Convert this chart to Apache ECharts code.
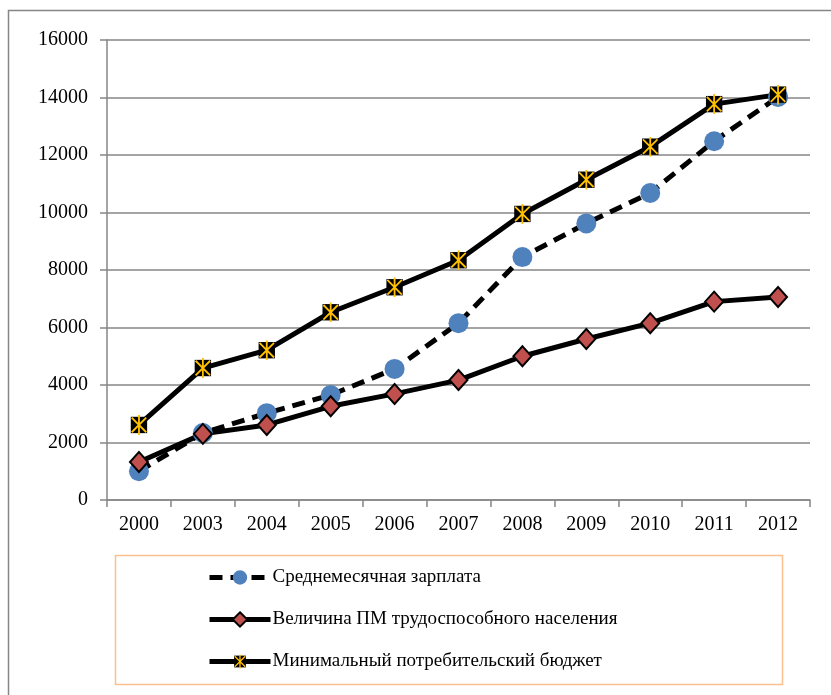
<!DOCTYPE html>
<html><head><meta charset="utf-8">
<script src="https://cdn.jsdelivr.net/npm/echarts@6/dist/echarts.min.js"></script>
<style>html,body{margin:0;padding:0;background:#fff}#c{width:831px;height:695px}</style>
</head><body><div id="c"></div>
<script>
const years = ['2000','2003','2004','2005','2006','2007','2008','2009','2010','2011','2012'];
const salary = [1000, 2330, 3020, 3650, 4560, 6150, 8450, 9620, 10680, 12480, 14020];
const subsistence = [1320, 2300, 2610, 3260, 3690, 4170, 5000, 5600, 6150, 6900, 7060];
const minBudget = [2610, 4590, 5210, 6530, 7400, 8340, 9950, 11140, 12290, 13770, 14100];
const seriesNames = ['Среднемесячная зарплата','Величина ПМ трудоспособного населения','Минимальный потребительский бюджет'];

const font = '"Liberation Serif", "Times New Roman", serif';
const starSvg = "<svg xmlns='http://www.w3.org/2000/svg' width='22' height='22' viewBox='0 0 22 22'><rect x='2' y='2' width='18' height='18' fill='black'/><path d='M3 3L19 19M19 3L3 19M11 0V22' stroke='%23ffc000' stroke-width='2'/></svg>";
const starSymbol = 'image://data:image/svg+xml;utf8,' + starSvg;

const chart = echarts.init(document.getElementById('c'), null, {renderer:'canvas'});
chart.setOption({
  animation: false,
  backgroundColor: '#fff',
  graphic: [
    {type:'rect', shape:{x:8.5,y:10.5,width:840,height:700}, style:{fill:'none', stroke:'#868686', lineWidth:1.5}, z:-10},
    {type:'rect', shape:{x:115.5,y:555.5,width:667,height:129}, style:{fill:'#fff', stroke:'#fac090', lineWidth:1.5}, z:-5}
  ],
  grid: {left:107, right:21, top:40, bottom:195, containLabel:false},
  legend: {
    orient:'vertical', left:207, top:568, padding:0,
    itemWidth:61, itemHeight:18, itemGap:23,
    lineStyle:{width:5},
    textStyle:{fontFamily:font, fontSize:19, color:'#000', padding:[0,0,0,-3]},
    data: seriesNames
  },
  xAxis: {
    type:'category', data: years, boundaryGap:true,
    axisLine:{lineStyle:{color:'#868686', width:1.5}},
    axisTick:{show:true, length:7, alignWithLabel:false, lineStyle:{color:'#868686', width:1.5}},
    axisLabel:{fontFamily:font, fontSize:20, color:'#000', margin:15}
  },
  yAxis: {
    type:'value', min:0, max:16000, interval:2000,
    axisLine:{show:true, lineStyle:{color:'#868686', width:1.5}},
    axisTick:{show:true, length:7, lineStyle:{color:'#868686', width:1.5}},
    splitLine:{lineStyle:{color:'#868686', width:1.5}},
    axisLabel:{fontFamily:font, fontSize:20, color:'#000', margin:19, formatter: v => String(v)}
  },
  series: [
    {name:seriesNames[0], type:'line', data:salary, symbol:'circle', symbolSize:20,
     itemStyle:{color:'#4f81bd'}, lineStyle:{color:'#000', width:5, type:[13,8]}},
    {name:seriesNames[1], type:'line', data:subsistence, symbol:'diamond', symbolSize:[18,20],
     itemStyle:{color:'#c0504d', borderColor:'#000', borderWidth:2}, lineStyle:{color:'#000', width:5}},
    {name:seriesNames[2], type:'line', data:minBudget, symbol:starSymbol, symbolSize:20,
     itemStyle:{color:'#000'}, lineStyle:{color:'#000', width:5}}
  ]
});
</script></body></html>
